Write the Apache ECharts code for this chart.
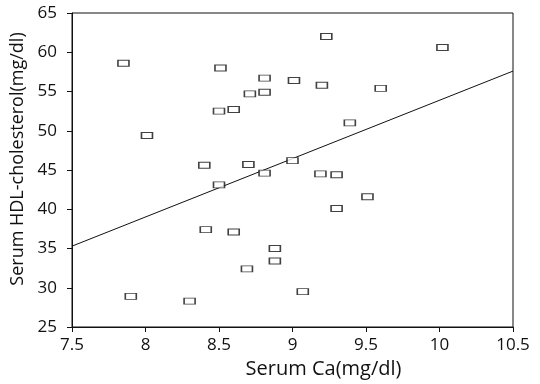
<!DOCTYPE html>
<html>
<head>
<meta charset="utf-8">
<script src="https://cdn.jsdelivr.net/npm/echarts@6/dist/echarts.min.js"></script>
<style>
  html, body { margin: 0; padding: 0; background: #fff; }
  #chart { width: 540px; height: 384px; }
</style>
</head>
<body>
<div id="chart"></div>
<script>
// serum Ca (mg/dl) per subject
const caValues = [
    7.85, 8.01, 8.51, 8.81, 9.01, 8.71, 8.81, 8.50, 8.60, 8.40, 8.70,
    8.81, 9.00, 8.50, 9.23, 10.02, 9.20, 9.60, 9.39, 9.19, 9.30, 9.51,
    9.30, 8.41, 8.60, 8.88, 8.88, 8.69, 7.90, 8.30, 9.07
]
// serum HDL-cholesterol (mg/dl), same order
const hdlValues = [
    58.6, 49.4, 58.0, 56.7, 56.4, 54.7, 54.9, 52.5, 52.7, 45.6, 45.7,
    44.6, 46.2, 43.1, 62.0, 60.6, 55.8, 55.4, 51.0, 44.5, 44.4, 41.6,
    40.1, 37.4, 37.1, 35.0, 33.4, 32.4, 28.9, 28.3, 29.5
]
// regression line end points
const fitX = [7.5, 10.5]
const fitY = [35.3, 57.6]

const font = 'Open Sans'
const ink = '#111'

const chart = echarts.init(document.getElementById('chart'))
const option = {
    animation: false,
    backgroundColor: '#fff',
    grid: {
        left: 72, right: 27, top: 13, bottom: 52,
        show: true,
        borderColor: ink,
        borderWidth: 1,
        backgroundColor: 'transparent'
    },
    xAxis: {
        type: 'value',
        min: 7.5, max: 10.5, interval: 0.5,
        name: 'Serum Ca(mg/dl)',
        nameLocation: 'middle',
        nameGap: 32,
        nameTextStyle: { fontFamily: font, fontSize: 20, color: ink, padding: [0, 0, 0, 62] },
        axisLine: { lineStyle: { color: ink, width: 1 } },
        axisTick: { length: 5, lineStyle: { color: ink } },
        axisLabel: { fontFamily: font, fontSize: 17, color: ink, margin: 10 },
        splitLine: { show: false }
    },
    yAxis: {
        type: 'value',
        min: 25, max: 65, interval: 5,
        name: 'Serum HDL-cholesterol(mg/dl)',
        nameLocation: 'middle',
        nameGap: 40,
        nameTextStyle: { fontFamily: font, fontSize: 18, color: ink, padding: [0, 0, 0, 22] },
        axisLine: { lineStyle: { color: ink, width: 1 } },
        axisTick: { length: 5, lineStyle: { color: ink } },
        axisLabel: { fontFamily: font, fontSize: 17, color: ink, margin: 15 },
        splitLine: { show: false }
    },
    series: [
        {
            type: 'line',
            data: fitX.map((x, i) => [x, fitY[i]]),
            symbol: 'none',
            lineStyle: { color: ink, width: 1 },
            z: 2
        },
        {
            type: 'scatter',
            data: caValues.map((x, i) => [x, hdlValues[i]]),
            symbol: 'rect',
            symbolSize: [11, 6],
            itemStyle: { color: '#fff', borderColor: ink, borderWidth: 1.2 },
            z: 3
        }
    ]
}
chart.setOption(option)
</script>
</body>
</html>
